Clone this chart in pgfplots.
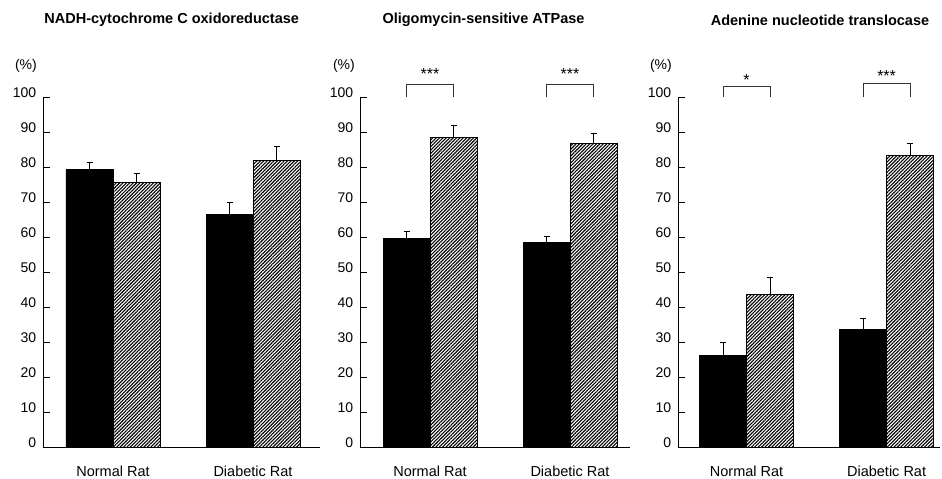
\documentclass[border=0pt]{standalone}
\usepackage{pgfplots}
\pgfplotsset{compat=1.18}
\usetikzlibrary{patterns.meta}
\usepackage{fontspec}
\setmainfont{Liberation Sans}

\pgfplotsset{
  panel/.style={
    scale only axis, x=140pt, y=3.5pt, ymin=0, ymax=100, xmin=0.5,
    axis x line=bottom, axis y line=left,
    axis line style={-, line width=0.9pt},
    ytick={0,10,...,100}, tick align=inside, major tick length=7pt,
    ytick style={line width=0.9pt, black},
    xtick={1,2}, xticklabels={Normal Rat, Diabetic Rat},
    xtick style={draw=none},
    xticklabel style={font=\fontsize{14.5}{17}\selectfont, anchor=base, yshift=-22pt},
    yticklabel style={font=\fontsize{14}{16}\selectfont, anchor=base east, xshift=-3.2pt},
    /pgf/number format/assume math mode=true,
    ybar, bar width=47pt, clip=false, anchor=south west,
    error bars/y dir=plus, error bars/y explicit,
    error bars/error bar style={line width=0.9pt, black},
    error bars/error mark options={rotate=90, mark size=3pt, line width=0.9pt, black},
  },
  blk/.style={fill=black, draw=black, line width=0.9pt, bar shift=-23.5pt},
  hat/.style={draw=black, line width=0.9pt, pattern={Lines[angle=45,distance=2.4pt,line width=1.1pt]}, bar shift=23.5pt},
}
% #1 group, #2 bracket top, #3 stars, #4 baseline offset of stars above bracket
\newcommand{\bracket}[4]{%
  \draw[line width=0.7pt, black!80] ([xshift=-23.5pt]axis cs:#1,100) -- ([xshift=-23.5pt]axis cs:#1,#2) -- ([xshift=23.5pt]axis cs:#1,#2) -- ([xshift=23.5pt]axis cs:#1,100);
  \node[font=\fontsize{16}{18}\selectfont, inner sep=0pt, anchor=base] at ([yshift=#4]axis cs:#1,#2) {#3};
}

\begin{document}
\begin{tikzpicture}
\useasboundingbox (0,0) rectangle (942pt,479pt);

% Panel 1
\begin{axis}[panel, at={(43pt,31.5pt)}, xmax=2.479]
\addplot[blk] coordinates {(1,79.3) +- (0,2.2) (2,66.7) +- (0,3.4)};
\addplot[hat] coordinates {(1,75.8) +- (0,2.5) (2,81.9) +- (0,4.0)};
\end{axis}

% Panel 2
\begin{axis}[panel, at={(360pt,31.5pt)}, xmax=2.429]
\addplot[blk] coordinates {(1,59.6) +- (0,2.2) (2,58.7) +- (0,1.7)};
\addplot[hat] coordinates {(1,88.6) +- (0,3.3) (2,86.8) +- (0,2.8)};
\bracket{1}{103.8}{***}{5pt}
\bracket{2}{103.8}{***}{5pt}
\end{axis}

% Panel 3
\begin{axis}[panel, at={(678pt,31.5pt)}, xmin=0.51, xmax=2.381]
\addplot[blk] coordinates {(1,26.3) +- (0,3.7) (2,33.7) +- (0,3.1)};
\addplot[hat] coordinates {(1,43.8) +- (0,4.8) (2,83.5) +- (0,3.4)};
\bracket{1}{103.2}{*}{0.5pt}
\bracket{2}{104.1}{***}{1.5pt}
\end{axis}

% Titles
\begin{scope}[every node/.style={font=\bfseries\fontsize{14.5}{17}\selectfont}]
\node at (171.7pt,459pt) {NADH-cytochrome C oxidoreductase};
\node at (483.5pt,459pt) {Oligomycin-sensitive ATPase};
\node at (820pt,459pt) {Adenine nucleotide translocase};
\end{scope}

% (%) labels
\begin{scope}[every node/.style={font=\fontsize{14}{16}\selectfont, inner sep=0pt, anchor=east}]
\node at (37pt,413pt) {(\%)};
\node at (355pt,413pt) {(\%)};
\node at (672pt,413pt) {(\%)};
\end{scope}
\end{tikzpicture}
\end{document}
